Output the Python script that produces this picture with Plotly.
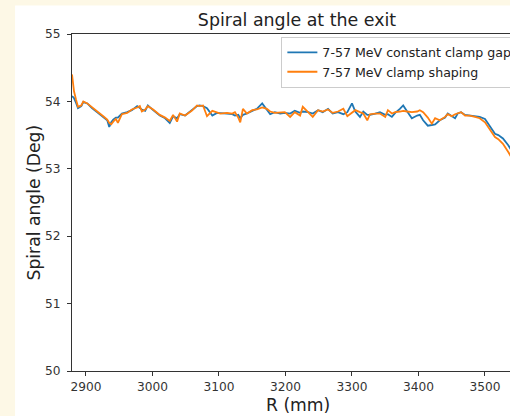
import plotly.graph_objects as go

# Radius (mm)
r_mm = [2879, 2882, 2885, 2888, 2893, 2896, 2902, 2909, 2917, 2926,
        2932, 2935, 2938, 2941, 2945, 2948, 2954, 2962, 2969, 2977,
        2981, 2984, 2989, 2993, 3001, 3011, 3019, 3026, 3031, 3037,
        3041, 3049, 3059, 3067, 3071, 3076, 3082, 3090, 3097, 3102,
        3112, 3120, 3124, 3129, 3132, 3136, 3142, 3150, 3157, 3165,
        3172, 3177, 3184, 3192, 3199, 3207, 3214, 3222, 3226, 3234,
        3241, 3249, 3256, 3264, 3271, 3279, 3287, 3293, 3300, 3305,
        3312, 3317, 3323, 3327, 3335, 3342, 3350, 3354, 3360, 3365,
        3372, 3377, 3383, 3390, 3398, 3402, 3407, 3414, 3420, 3425,
        3432, 3440, 3444, 3450, 3455, 3459, 3464, 3470, 3477, 3485,
        3492, 3500, 3508, 3515, 3520, 3527, 3535, 3541, 3550, 3557]

# 7-57 MeV constant clamp gap
angle_gap = [54.08, 54.05, 53.98, 53.90, 53.93, 53.99, 53.97, 53.90, 53.84, 53.77,
             53.72, 53.62, 53.69, 53.73, 53.76, 53.76, 53.82, 53.84, 53.87, 53.93,
             53.90, 53.88, 53.86, 53.94, 53.87, 53.79, 53.75, 53.68, 53.78, 53.75,
             53.81, 53.79, 53.87, 53.93, 53.94, 53.93, 53.90, 53.79, 53.83, 53.83,
             53.82, 53.81, 53.79, 53.80, 53.75, 53.80, 53.82, 53.86, 53.89, 53.97,
             53.88, 53.81, 53.84, 53.82, 53.83, 53.82, 53.86, 53.83, 53.85, 53.84,
             53.82, 53.87, 53.84, 53.89, 53.82, 53.84, 53.81, 53.84, 53.97, 53.85,
             53.77, 53.85, 53.80, 53.80, 53.82, 53.84, 53.80, 53.81, 53.77, 53.83,
             53.89, 53.94, 53.85, 53.75, 53.79, 53.80, 53.72, 53.64, 53.65, 53.66,
             53.72, 53.76, 53.82, 53.78, 53.75, 53.82, 53.84, 53.80, 53.79, 53.78,
             53.77, 53.74, 53.62, 53.52, 53.50, 53.45, 53.35, 53.25, 53.12, 53.00]

# 7-57 MeV clamp shaping
angle_shaping = [54.40, 54.15, 54.03, 53.92, 53.94, 54.00, 53.97, 53.91, 53.85, 53.78,
                 53.73, 53.68, 53.66, 53.70, 53.74, 53.68, 53.81, 53.83, 53.88, 53.91,
                 53.93, 53.85, 53.88, 53.93, 53.88, 53.80, 53.76, 53.71, 53.80, 53.70,
                 53.82, 53.79, 53.86, 53.94, 53.93, 53.94, 53.78, 53.86, 53.84, 53.82,
                 53.83, 53.82, 53.84, 53.76, 53.69, 53.89, 53.82, 53.87, 53.88, 53.91,
                 53.89, 53.85, 53.83, 53.83, 53.84, 53.77, 53.84, 53.79, 53.92, 53.84,
                 53.77, 53.87, 53.85, 53.88, 53.83, 53.85, 53.89, 53.78, 53.84, 53.87,
                 53.84, 53.82, 53.72, 53.81, 53.82, 53.82, 53.77, 53.87, 53.82, 53.84,
                 53.85, 53.86, 53.85, 53.84, 53.85, 53.87, 53.84, 53.76, 53.67, 53.75,
                 53.72, 53.77, 53.81, 53.78, 53.81, 53.82, 53.84, 53.79, 53.79, 53.77,
                 53.75, 53.69, 53.57, 53.47, 53.44, 53.37, 53.25, 53.14, 53.00, 52.88]

x_ticks = [2900, 3000, 3100, 3200, 3300, 3400, 3500]
y_ticks = [50, 51, 52, 53, 54, 55]

font = 'DejaVu Sans'
axis_color = '#333333'

fig = go.Figure()
fig.add_trace(go.Scatter(x=r_mm, y=angle_gap, mode='lines',
                         name='7-57 MeV constant clamp gap',
                         line=dict(color='#1f77b4', width=1.8)))
fig.add_trace(go.Scatter(x=r_mm, y=angle_shaping, mode='lines',
                         name='7-57 MeV clamp shaping',
                         line=dict(color='#ff7f0e', width=1.8)))

# white figure sheet on the cream page
fig.add_shape(type='rect', xref='paper', yref='paper',
              x0=-0.13, x1=1.02, y0=-0.14, y1=1.0844,
              fillcolor='white', line_width=0, layer='below')

fig.update_layout(
    width=510, height=416,
    margin=dict(l=72, r=0, t=34, b=45, autoexpand=False),
    paper_bgcolor='#fdf8e6',
    plot_bgcolor='white',
    font=dict(family=font, color='#222222'),
    title=dict(text='Spiral angle at the exit', x=0.5137, xref='paper',
               xanchor='center', y=0.952, yanchor='middle',
               font=dict(size=17.4, color='#222222')),
    legend=dict(x=0.478, y=0.992, xanchor='left', yanchor='top',
                bgcolor='rgba(255,255,255,0.85)', bordercolor='#cccccc',
                borderwidth=1, tracegroupgap=0,
                font=dict(size=12.6, color='#222222')),
    showlegend=True,
)

fig.update_xaxes(range=[2879, 3537.6], tickvals=x_ticks,
                 showgrid=False, zeroline=False,
                 showline=True, linecolor=axis_color, linewidth=1, mirror=True,
                 ticks='outside', ticklen=4, tickcolor=axis_color,
                 tickfont=dict(size=12.2, color='#333333'))
fig.update_yaxes(range=[50, 55], tickvals=y_ticks,
                 showgrid=False, zeroline=False,
                 showline=True, linecolor=axis_color, linewidth=1,
                 ticks='outside', ticklen=4, tickcolor=axis_color,
                 ticklabelstandoff=4,
                 tickfont=dict(size=12.2, color='#333333'))

fig.add_annotation(text='R (mm)', xref='paper', yref='paper',
                   x=0.516, y=-0.0998, xanchor='center', yanchor='middle',
                   showarrow=False, font=dict(size=17.2, color='#222222'))
fig.add_annotation(text='Spiral angle (Deg)', xref='paper', yref='paper',
                   x=-0.089, y=0.5, xanchor='center', yanchor='middle',
                   textangle=-90, showarrow=False,
                   font=dict(size=17.2, color='#222222'))

# drop the browser's default page margin so the figure sits at 0,0
fig.write_html('out.html',
               config={'displayModeBar': False},
               post_script="document.body.style.margin='0';"
                           "document.body.style.overflow='hidden';")
